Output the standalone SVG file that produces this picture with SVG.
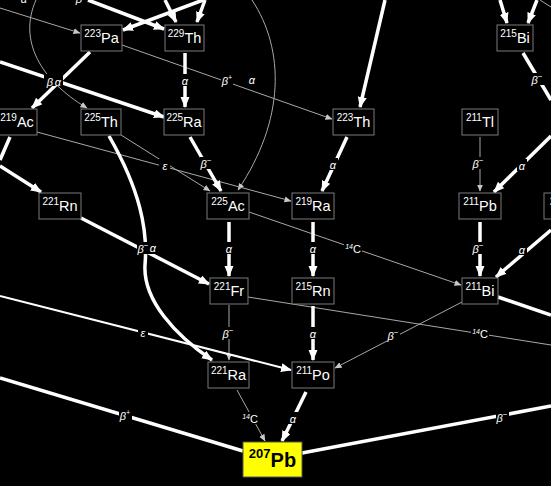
<svg xmlns="http://www.w3.org/2000/svg" width="551" height="486" viewBox="0 0 551 486">
<style>
.bg{fill:#000}
.node rect{fill:#000;stroke:#7a7a7a;stroke-width:1}
.nt{font-family:"Liberation Sans",Arial,sans-serif;fill:#fff;text-anchor:middle}
.sup{font-size:10px}
.sym{font-size:14.5px}
.thick{stroke:#fff;stroke-width:3.5;fill:none}
.thin{stroke:#a8a8a8;stroke-width:1;fill:none}
.mid{stroke:#fff;stroke-width:2;fill:none}
.lb rect{fill:#000}
.lb text{font-family:"Liberation Sans",Arial,sans-serif;font-style:italic;font-size:11px;fill:#fff;text-anchor:middle}
</style>
<defs>
<marker id="ah" markerUnits="userSpaceOnUse" markerWidth="12" markerHeight="10" refX="10" refY="4.5" orient="auto"><path d="M0,0 L11,4.5 L0,9 z" fill="#fff"/></marker>
<marker id="at" markerUnits="userSpaceOnUse" markerWidth="9" markerHeight="7" refX="6.5" refY="3" orient="auto"><path d="M0,0 L7,3 L0,6 z" fill="#c8c8c8"/></marker>
</defs>
<rect class="bg" x="0" y="0" width="551" height="486"/>

<g id="connectors">
<!-- thin -->
<path class="thin" d="M0,8 L80,33" marker-end="url(#at)"/>
<path class="thin" d="M36,0 C18,40 40,80 87,108" marker-end="url(#at)"/>
<path class="thin" d="M122,45 L332,119" marker-end="url(#at)"/>
<path class="thin" d="M252,0 C285,50 285,120 238,190" marker-end="url(#at)"/>
<path class="thin" d="M121,135 L210,191" marker-end="url(#at)"/>
<path class="thin" d="M37,132 L291,201" marker-end="url(#at)"/>
<path class="thin" d="M249,212 L461,285" marker-end="url(#at)"/>
<path class="thin" d="M480,137 L480,191" marker-end="url(#at)"/>
<path class="thin" d="M229,305 L229,360" marker-end="url(#at)"/>
<path class="thin" d="M248,297 L551,345"/>
<path class="thin" d="M462,302 L335,368" marker-end="url(#at)"/>
<path class="thin" d="M237,390 L265,441" marker-end="url(#at)"/>
<path class="thin" d="M540,0 L551,7"/>
<path class="mid" d="M0,296 L291,370" marker-end="url(#ah)"/>
<!-- thick -->
<path class="thick" d="M88,0 L164,29" marker-end="url(#ah)"/>
<path class="thick" d="M203,0 L123,30" marker-end="url(#ah)"/>
<path class="thick" d="M165,0 L176,22" marker-end="url(#ah)"/>
<path class="thick" d="M205,0 L197,22" marker-end="url(#ah)"/>
<path class="thick" d="M90,52 L32,108" marker-end="url(#ah)"/>
<path class="thick" d="M0,62 L164,117" marker-end="url(#ah)"/>
<path class="thick" d="M185,53 L185,107" marker-end="url(#ah)"/>
<path class="thick" d="M190,137 L221,191" marker-end="url(#ah)"/>
<path class="thick" d="M385,0 L360,107" marker-end="url(#ah)"/>
<path class="thick" d="M347,137 L322,191" marker-end="url(#ah)"/>
<path class="thick" d="M523,53 L551,100"/>
<path class="thick" d="M500,0 L507,23" marker-end="url(#ah)"/>
<path class="thick" d="M537,0 L528,23" marker-end="url(#ah)"/>
<path class="thick" d="M551,136 L494,192" marker-end="url(#ah)"/>
<path class="thick" d="M480,222 L480,276" marker-end="url(#ah)"/>
<path class="thick" d="M551,230 L496,277" marker-end="url(#ah)"/>
<path class="thick" d="M498,297 L551,315"/>
<path class="thick" d="M10,137 L0,160"/>
<path class="thick" d="M0,166 L41,192" marker-end="url(#ah)"/>
<path class="thick" d="M81,218 L209,284" marker-end="url(#ah)"/>
<path class="thick" d="M109,136 C140,190 148,230 145,265 C143,300 175,335 212,360" marker-end="url(#ah)"/>
<path class="thick" d="M229,222 L229,276" marker-end="url(#ah)"/>
<path class="thick" d="M313,222 L313,276" marker-end="url(#ah)"/>
<path class="thick" d="M313,306 L313,360" marker-end="url(#ah)"/>
<path class="thick" d="M306,392 L282,441" marker-end="url(#ah)"/>
<path class="thick" d="M0,378 L243,451"/>
<path class="thick" d="M551,406 L302,453"/>
</g>

<g id="labels">
<g class="lb"><text x="24" y="3">α</text></g>
<g class="lb"><text x="79" y="3">β</text></g>
<g class="lb"><rect x="44" y="74" width="19" height="12"/><text x="50" y="86">β</text><text x="58" y="86">α</text></g>
<g class="lb"><rect x="180" y="74" width="10" height="12"/><text x="185" y="85">α</text></g>
<g class="lb"><rect x="221" y="74" width="12" height="12"/><text x="227" y="85">β<tspan font-size="7" dy="-5">+</tspan></text></g>
<g class="lb"><text x="252" y="84">α</text></g>
<g class="lb"><rect x="200" y="157" width="13" height="12"/><text x="206" y="168">β<tspan font-size="8" dy="-5">−</tspan></text></g>
<g class="lb"><rect x="159" y="159" width="11" height="12"/><text x="165" y="170">ε</text></g>
<g class="lb"><rect x="328" y="158" width="10" height="12"/><text x="333" y="169">α</text></g>
<g class="lb"><rect x="472" y="157" width="13" height="12"/><text x="478" y="168">β<tspan font-size="8" dy="-5">−</tspan></text></g>
<g class="lb"><rect x="517" y="159" width="10" height="12"/><text x="522" y="170">α</text></g>
<g class="lb"><rect x="531" y="73" width="13" height="12"/><text x="537" y="84">β<tspan font-size="8" dy="-5">−</tspan></text></g>
<g class="lb"><rect x="137" y="242" width="22" height="12"/><text x="143" y="253">β<tspan font-size="8" dy="-5">−</tspan></text><text x="153" y="252">α</text></g>
<g class="lb"><rect x="224" y="242" width="10" height="12"/><text x="229" y="253">α</text></g>
<g class="lb"><rect x="308" y="242" width="10" height="12"/><text x="313" y="253">α</text></g>
<g class="lb"><rect x="344" y="242" width="18" height="12"/><text x="353" y="253"><tspan font-size="7" dy="-4">14</tspan><tspan font-style="normal" dy="4">C</tspan></text></g>
<g class="lb"><rect x="472" y="242" width="13" height="12"/><text x="478" y="253">β<tspan font-size="8" dy="-5">−</tspan></text></g>
<g class="lb"><rect x="517" y="243" width="10" height="12"/><text x="522" y="254">α</text></g>
<g class="lb"><rect x="222" y="327" width="13" height="12"/><text x="228" y="338">β<tspan font-size="8" dy="-5">−</tspan></text></g>
<g class="lb"><rect x="308" y="327" width="10" height="12"/><text x="313" y="338">α</text></g>
<g class="lb"><rect x="138" y="327" width="10" height="12"/><text x="143" y="337">ε</text></g>
<g class="lb"><rect x="387" y="329" width="13" height="12"/><text x="393" y="340">β<tspan font-size="8" dy="-5">−</tspan></text></g>
<g class="lb"><rect x="471" y="327" width="18" height="12"/><text x="480" y="338"><tspan font-size="7" dy="-4">14</tspan><tspan font-style="normal" dy="4">C</tspan></text></g>
<g class="lb"><rect x="241" y="412" width="18" height="12"/><text x="250" y="423"><tspan font-size="7" dy="-4">14</tspan><tspan font-style="normal" dy="4">C</tspan></text></g>
<g class="lb"><rect x="288" y="412" width="10" height="12"/><text x="293" y="423">α</text></g>
<g class="lb"><rect x="119" y="409" width="13" height="12"/><text x="125" y="420">β<tspan font-size="7" dy="-5">+</tspan></text></g>
<g class="lb"><rect x="496" y="411" width="13" height="12"/><text x="502" y="422">β<tspan font-size="8" dy="-5">−</tspan></text></g>
</g>

<g id="n223Pa" class="node"><rect x="81" y="25" width="41" height="26"/><text class="nt" x="101.5" y="43"><tspan class="sup" dy="-6">223</tspan><tspan class="sym" dy="6">Pa</tspan></text></g>
<g id="n229Th" class="node"><rect x="165" y="25" width="39" height="26"/><text class="nt" x="184.5" y="43"><tspan class="sup" dy="-6">229</tspan><tspan class="sym" dy="6">Th</tspan></text></g>
<g id="n215Bi" class="node"><rect x="497" y="25" width="36" height="26"/><text class="nt" x="515" y="43"><tspan class="sup" dy="-6">215</tspan><tspan class="sym" dy="6">Bi</tspan></text></g>
<g id="n219Ac" class="node"><rect x="-3" y="109" width="40" height="26"/><text class="nt" x="17" y="127"><tspan class="sup" dy="-6">219</tspan><tspan class="sym" dy="6">Ac</tspan></text></g>
<g id="n225Th" class="node"><rect x="81" y="109" width="40" height="26"/><text class="nt" x="101" y="127"><tspan class="sup" dy="-6">225</tspan><tspan class="sym" dy="6">Th</tspan></text></g>
<g id="n225Ra" class="node"><rect x="164" y="109" width="40" height="26"/><text class="nt" x="184" y="127"><tspan class="sup" dy="-6">225</tspan><tspan class="sym" dy="6">Ra</tspan></text></g>
<g id="n223Th" class="node"><rect x="333" y="109" width="41" height="26"/><text class="nt" x="353.5" y="127"><tspan class="sup" dy="-6">223</tspan><tspan class="sym" dy="6">Th</tspan></text></g>
<g id="n211Tl" class="node"><rect x="462" y="109" width="36" height="26"/><text class="nt" x="480" y="127"><tspan class="sup" dy="-6">211</tspan><tspan class="sym" dy="6">Tl</tspan></text></g>
<g id="n221Rn" class="node"><rect x="39" y="193" width="42" height="26"/><text class="nt" x="60" y="211"><tspan class="sup" dy="-6">221</tspan><tspan class="sym" dy="6">Rn</tspan></text></g>
<g id="n225Ac" class="node"><rect x="207" y="193" width="42" height="26"/><text class="nt" x="228" y="211"><tspan class="sup" dy="-6">225</tspan><tspan class="sym" dy="6">Ac</tspan></text></g>
<g id="n219Ra" class="node"><rect x="292" y="193" width="42" height="26"/><text class="nt" x="313" y="211"><tspan class="sup" dy="-6">219</tspan><tspan class="sym" dy="6">Ra</tspan></text></g>
<g id="n211Pb" class="node"><rect x="459" y="193" width="42" height="26"/><text class="nt" x="480" y="211"><tspan class="sup" dy="-6">211</tspan><tspan class="sym" dy="6">Pb</tspan></text></g>
<g id="n215At" class="node"><rect x="544" y="193" width="42" height="26"/><text class="nt" x="565" y="211"><tspan class="sup" dy="-6">215</tspan><tspan class="sym" dy="6">At</tspan></text></g>
<g id="n221Fr" class="node"><rect x="210" y="278" width="38" height="26"/><text class="nt" x="229" y="296"><tspan class="sup" dy="-6">221</tspan><tspan class="sym" dy="6">Fr</tspan></text></g>
<g id="n215Rn" class="node"><rect x="292" y="278" width="42" height="26"/><text class="nt" x="313" y="296"><tspan class="sup" dy="-6">215</tspan><tspan class="sym" dy="6">Rn</tspan></text></g>
<g id="n211Bi" class="node"><rect x="462" y="278" width="36" height="26"/><text class="nt" x="480" y="296"><tspan class="sup" dy="-6">211</tspan><tspan class="sym" dy="6">Bi</tspan></text></g>
<g id="n221Ra" class="node"><rect x="208" y="362" width="41" height="26"/><text class="nt" x="228.5" y="380"><tspan class="sup" dy="-6">221</tspan><tspan class="sym" dy="6">Ra</tspan></text></g>
<g id="n211Po" class="node"><rect x="292" y="362" width="42" height="26"/><text class="nt" x="313" y="380"><tspan class="sup" dy="-6">211</tspan><tspan class="sym" dy="6">Po</tspan></text></g>
<g id="n207Pb" class="node"><rect x="243" y="442" width="59" height="35" style="fill:#ffff00;stroke:#555"/><text x="272.5" y="467" text-anchor="middle" font-family="'Liberation Sans',Arial,sans-serif" font-weight="bold" fill="#000"><tspan font-size="13" dy="-9">207</tspan><tspan font-size="20" dy="9">Pb</tspan></text></g>
</svg>
